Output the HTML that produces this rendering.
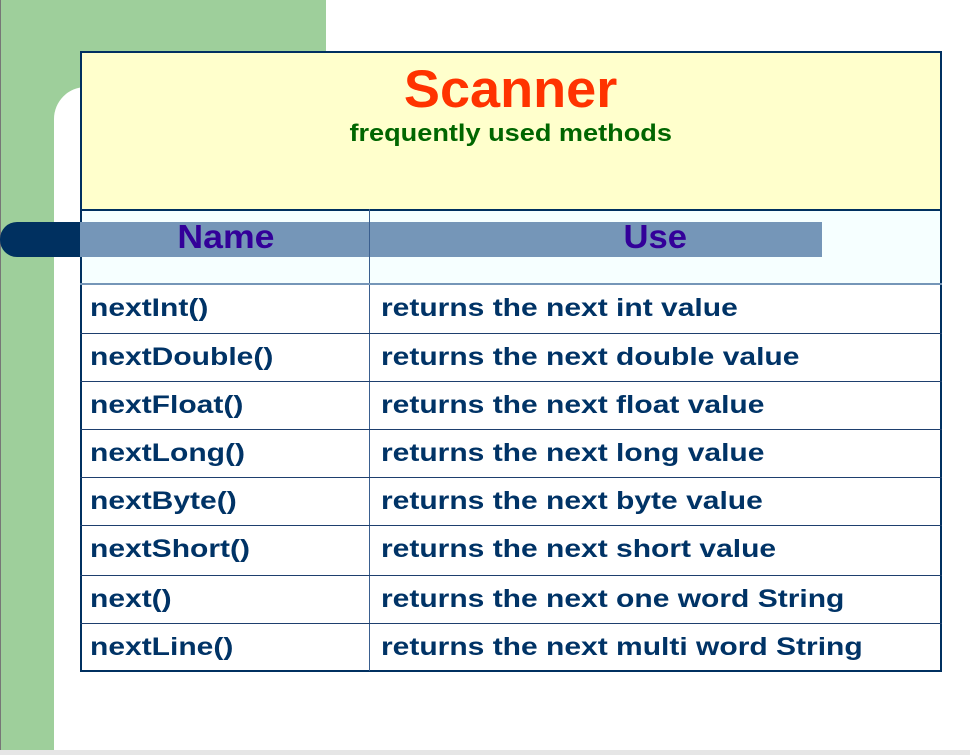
<!DOCTYPE html>
<html><head><meta charset="utf-8"><style>
*{margin:0;padding:0;box-sizing:border-box}
body{width:970px;height:755px;position:relative;overflow:hidden;background:#fff;font-family:"Liberation Sans",sans-serif;font-weight:bold}
.a{position:absolute}
.c{display:inline-block;transform-origin:center}
.row{position:absolute;left:80px;width:862px;height:49px;border-top:1px solid #1e3f6e}
.row span{position:absolute;top:9px;font-size:25px;color:#003366;white-space:nowrap;transform:scaleX(1.2);transform-origin:left}
</style></head><body>
<div class="a" style="left:0;top:0;width:1px;height:755px;background:#777"></div>
<div class="a" style="left:1px;top:0;width:325px;height:120px;background:#9ecf9b"></div>
<div class="a" style="left:1px;top:0;width:53px;height:750px;background:#9ecf9b"></div>
<div class="a" style="left:54px;top:87px;width:916px;height:663px;background:#fff;border-top-left-radius:32px"></div>
<div class="a" style="left:0;top:750px;width:970px;height:5px;background:#e6e6e6"></div>
<div class="a" style="left:80px;top:51px;width:862px;height:621px;border:2px solid #003060;background:#fff"></div>
<div class="a" style="left:82px;top:53px;width:858px;height:156px;background:#ffffcc"></div>
<div class="a" style="left:82px;top:209px;width:858px;height:74px;background:#f6ffff;border-top:2px solid #003060"></div>
<div class="a" style="left:0;top:222px;width:80px;height:35px;background:#003060;border-radius:17px 0 0 17px"></div>
<div class="a" style="left:80px;top:222px;width:742px;height:35px;background:#7596b8"></div>
<div class="a" style="left:82px;top:59px;width:858px;text-align:center;color:#ff3300;font-size:53px"><span class="c" style="transform:scaleX(1.02)">Scanner</span></div>
<div class="a" style="left:82px;top:120px;width:858px;text-align:center;color:#006600;font-size:24px"><span class="c" style="transform:scaleX(1.13)">frequently used methods</span></div>
<div class="a" style="left:82px;top:218px;width:288px;text-align:center;color:#330099;font-size:33px"><span class="c" style="transform:scaleX(1.08)">Name</span></div>
<div class="a" style="left:370px;top:218px;width:570px;text-align:center;color:#330099;font-size:33px"><span class="c" style="transform:scaleX(1.05)">Use</span></div>
<div class="a" style="left:369px;top:209px;width:1px;height:462px;background:#3a5f8f"></div>
<div class="row" style="top:283px;border-top:2px solid #7596b8"><span style="left:10px">nextInt()</span><span style="left:301px">returns the next int value</span></div>
<div class="row" style="top:333px"><span style="left:10px">nextDouble()</span><span style="left:301px">returns the next double value</span></div>
<div class="row" style="top:381px"><span style="left:10px">nextFloat()</span><span style="left:301px">returns the next float value</span></div>
<div class="row" style="top:429px"><span style="left:10px">nextLong()</span><span style="left:301px">returns the next long value</span></div>
<div class="row" style="top:477px"><span style="left:10px">nextByte()</span><span style="left:301px">returns the next byte value</span></div>
<div class="row" style="top:525px"><span style="left:10px">nextShort()</span><span style="left:301px">returns the next short value</span></div>
<div class="row" style="top:575px"><span style="left:10px">next()</span><span style="left:301px">returns the next one word String</span></div>
<div class="row" style="top:623px"><span style="left:10px">nextLine()</span><span style="left:301px">returns the next multi word String</span></div>
</body></html>
